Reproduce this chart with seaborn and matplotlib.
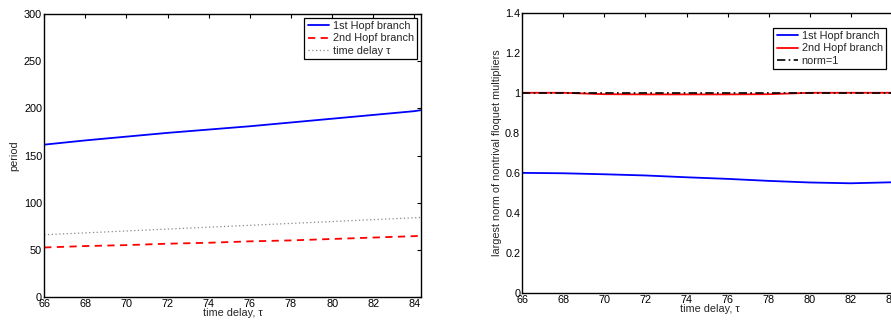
import numpy as np
import pandas as pd
import matplotlib
matplotlib.use("Agg")
import matplotlib.pyplot as plt
import seaborn as sns

sns.set_theme(style="white")
plt.rcParams['font.family'] = ['Liberation Sans', 'DejaVu Sans']

tau = [66, 68, 70, 72, 74, 76, 78, 80, 82, 84, 84.3]
period_1st = [161.5, 166, 170, 174, 177.5, 181, 185, 189, 193, 197, 198]
period_2nd = [52.5, 54, 55, 56.5, 57.5, 59, 60, 61.5, 63, 64.5, 65]
delay = [66, 68, 70, 72, 74, 76, 78, 80, 82, 84, 84.3]

floq_1st = [0.600, 0.598, 0.593, 0.587, 0.578, 0.570, 0.560, 0.552, 0.548, 0.553, 0.555]
floq_2nd = [1.0, 1.0, 0.993, 0.992, 0.992, 0.992, 0.993, 1.0, 1.0, 1.0, 1.0]
norm1 = [1.0] * len(tau)

W, H = 891, 322
fig = plt.figure(figsize=(W / 100, H / 100), dpi=100)

def rect(x0, y0, x1, y1):
    return [x0 / W, 1 - y1 / H, (x1 - x0) / W, (y1 - y0) / H]

ax1 = fig.add_axes(rect(44.2, 14, 420.7, 297))
ax2 = fig.add_axes(rect(522.3, 12.7, 898.2, 293))

df1 = pd.DataFrame({"tau": tau, "a": period_1st, "b": period_2nd, "c": delay})
sns.lineplot(data=df1, x="tau", y="a", ax=ax1, color="#0000ff", lw=1.3, label="1st Hopf branch")
sns.lineplot(data=df1, x="tau", y="b", ax=ax1, color="#ff0000", lw=1.3, linestyle=(0, (4, 3)), label="2nd Hopf branch")
sns.lineplot(data=df1, x="tau", y="c", ax=ax1, color="#888888", lw=0.9, linestyle=(0, (1, 2)), label="time delay \u03c4")

df2 = pd.DataFrame({"tau": tau, "a": floq_1st, "b": floq_2nd, "c": norm1})
sns.lineplot(data=df2, x="tau", y="a", ax=ax2, color="#0000ff", lw=1.3, label="1st Hopf branch")
sns.lineplot(data=df2, x="tau", y="b", ax=ax2, color="#ff0000", lw=1.3, label="2nd Hopf branch")
sns.lineplot(data=df2, x="tau", y="c", ax=ax2, color="black", lw=1.2, linestyle=(0, (5, 2, 1, 2)), label="norm=1")

fs = 7.8
for ax in (ax1, ax2):
    ax.set_xlim(66, 84.31)
    ax.set_xticks([66, 68, 70, 72, 74, 76, 78, 80, 82, 84])
    ax.tick_params(direction="in", length=3, width=0.8, top=True, right=True,
                   labelsize=fs, pad=1.5, colors="black")
    for s in ax.spines.values():
        s.set_color("black")
        s.set_linewidth(1.0)
    ax.set_xlabel("time delay, \u03c4", fontsize=fs, labelpad=-0.5)
    ax.set_facecolor("white")

ax1.set_ylim(0, 300)
ax1.set_yticks([0, 50, 100, 150, 200, 250, 300])
ax1.set_ylabel("period", fontsize=fs, labelpad=3)
ax2.set_ylim(0, 1.4)
ax2.set_yticks([0, 0.2, 0.4, 0.6, 0.8, 1.0, 1.2, 1.4])
ax2.set_yticklabels(["0", "0.2", "0.4", "0.6", "0.8", "1", "1.2", "1.4"])
ax2.set_ylabel("largest norm of nontrival floquet multipliers", fontsize=fs, labelpad=2)

for ax, (px, py) in ((ax1, (417, 18)), (ax2, (886, 28))):
    leg = ax.legend(loc="upper right", bbox_to_anchor=(px / W, 1 - py / H),
                    bbox_transform=fig.transFigure, fontsize=fs, frameon=True,
                    fancybox=False, framealpha=1, edgecolor="black", borderpad=0.3,
                    handlelength=2.0, handletextpad=0.3, labelspacing=0.2, borderaxespad=0)
    leg.get_frame().set_linewidth(0.9)

fig.savefig("out.png", dpi=100)
